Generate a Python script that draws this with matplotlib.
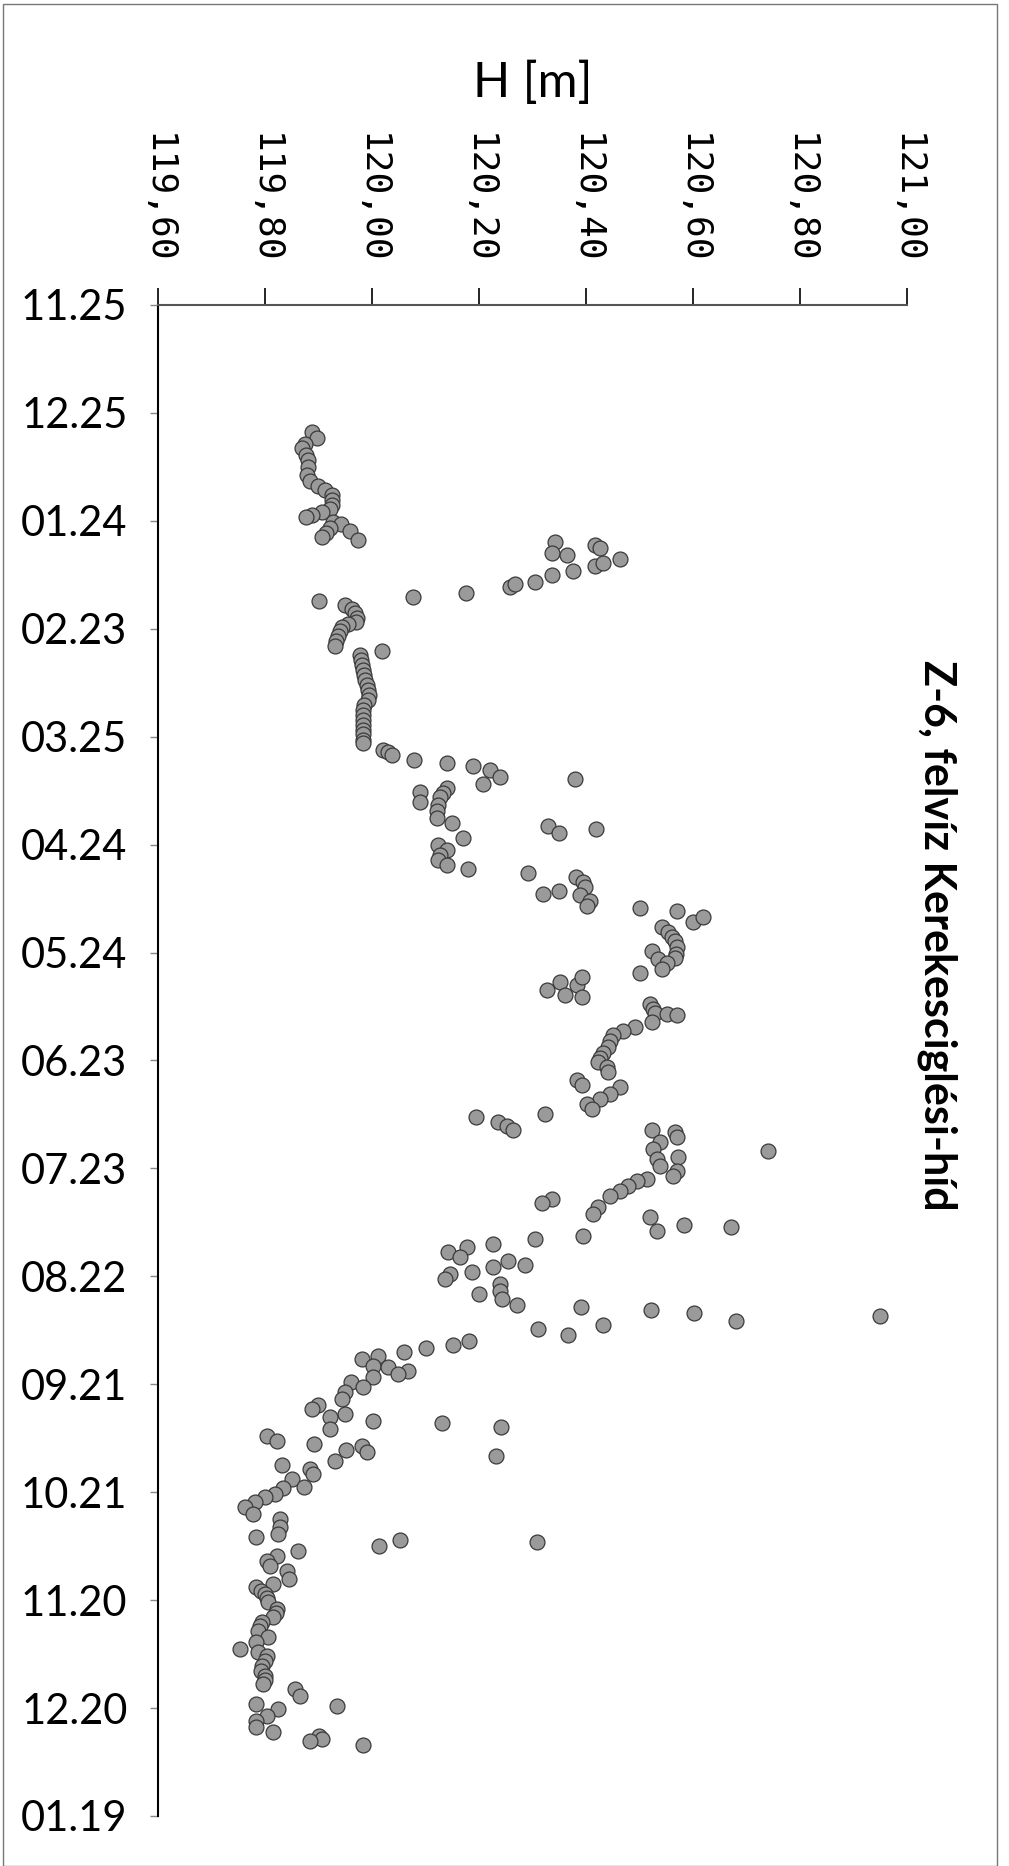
import datetime as dt
import numpy as np
import matplotlib
matplotlib.use('Agg')
import matplotlib.pyplot as plt
from matplotlib.patches import Rectangle

# start of the time axis, day offsets of the readings and the water level H [m]
start = dt.date(2008, 11, 25)

day = [35.2, 37.0, 38.6, 39.7, 41.7, 43.0, 45.0, 47.2, 49.0, 50.3, 51.4, 52.8, 54.2,
       55.6, 56.7, 57.5, 58.3, 59.0, 60.3, 61.0, 62.0, 62.8, 63.3, 64.4, 65.3,
       65.8, 69.0, 69.6, 66.7, 67.6, 70.6, 72.7, 71.6, 73.9, 75.0, 76.9, 78.3, 77.5,
       80.1, 81.3, 82.4,
       83.3, 84.4, 85.6, 86.9, 88.0, 88.6, 89.4, 90.6, 92.1, 93.3, 94.9, 96.3,
       97.2, 98.6, 100.0, 101.4, 102.8, 104.2, 105.6, 106.9, 108.3, 109.7, 111.1,
       112.5, 113.9, 115.3, 116.7, 118.1, 119.4, 120.8, 121.9,
       123.6, 124.2, 125.0, 126.4, 127.2, 128.1, 129.2, 131.1, 133.1, 131.7, 135.3,
       138.1, 134.2, 135.6, 136.9, 138.9, 140.8, 142.5, 143.9, 148.1, 150.0, 151.4,
       152.8, 154.2, 155.6, 156.9, 144.7, 146.7, 145.6, 157.8, 163.6, 162.8, 158.9,
       160.3, 161.9, 163.9, 165.8, 167.2, 167.5, 168.6, 171.4, 170.0, 172.8, 174.2,
       175.6, 176.9, 178.6, 180.3, 181.4, 179.7, 181.8, 182.8, 184.7, 185.6, 190.3,
       188.1, 191.7, 188.9, 186.7, 192.5,
       194.4, 195.8, 196.7, 197.2, 197.5, 199.4, 200.6, 201.9, 202.8, 204.7, 206.4,
       207.8, 209.2, 210.3, 211.7, 213.3, 215.3, 216.9, 217.5, 219.4, 220.8, 222.2,
       223.6, 225.8, 227.2, 228.3, 229.2, 225.0, 229.4, 230.0, 231.4, 232.8, 234.7,
       236.7, 237.5, 239.4, 240.8, 242.2, 235.3, 243.0, 243.6, 245.0, 246.4, 247.8,
       250.8, 252.8, 248.6, 249.7, 253.6, 257.5, 255.6, 256.4, 258.9, 259.7, 261.1,
       261.9, 263.3, 264.7, 265.8, 266.9, 267.5, 268.9, 269.4,
       270.8, 272.2, 274.2, 276.4, 278.1, 275.0, 278.6, 279.4, 280.3, 282.5, 281.1,
       283.6, 284.7, 286.4, 288.1, 289.2, 290.0, 291.1, 292.2, 293.1, 295.0, 295.3,
       296.4, 297.2, 298.1, 299.4, 300.8, 302.2, 304.2, 305.8, 306.9, 308.3, 309.2,
       310.3, 310.8, 311.9, 312.5, 314.4, 315.8, 316.7, 317.2, 318.3, 318.9, 320.0,
       321.3, 322.4, 323.6, 325.0, 326.4, 328.5, 328.7, 330.6, 331.4, 332.8, 334.2,
       336.1, 337.5, 339.7, 341.7, 342.5, 343.3, 343.8, 345.0, 346.4, 347.7, 349.1,
       350.5, 351.9, 354.2, 355.6, 356.4, 357.5, 358.3, 359.5, 360.6, 362.5, 363.5,
       364.7, 366.1, 367.3, 368.6, 370.3, 371.7, 373.6, 374.4, 375.6, 376.9, 378.3,
       379.7, 381.1, 382.2, 383.3, 384.7, 386.7, 388.9, 389.4, 390.3, 392.2, 393.6,
       395.3, 396.7, 397.8, 398.6, 399.2, 400.3]

h = [119.888, 119.897, 119.875, 119.869, 119.877, 119.880, 119.880, 119.878, 119.884,
     119.899, 119.912, 119.925, 119.925, 119.925, 119.921, 119.907, 119.888, 119.877,
     119.927, 119.942, 119.921, 119.959, 119.914, 119.907, 119.974,
     120.342, 120.336, 120.365, 120.417, 120.426, 120.463, 120.417, 120.432, 120.375,
     120.336, 120.305, 120.258, 120.267, 120.176, 120.077, 119.900,
     119.949, 119.962, 119.968, 119.972, 119.971, 119.955, 119.943, 119.940, 119.937,
     119.933, 119.931, 120.018,
     119.978, 119.980, 119.982, 119.983, 119.985, 119.987, 119.990, 119.993, 119.995,
     119.992, 119.985, 119.983, 119.983, 119.983, 119.983, 119.983, 119.983, 119.983,
     119.983,
     120.021, 120.030, 120.037, 120.078, 120.140, 120.189, 120.220, 120.239, 120.207,
     120.379, 120.090, 120.090, 120.140, 120.133, 120.127, 120.123, 120.121, 120.121,
     120.149, 120.170, 120.123, 120.140, 120.127, 120.123, 120.140, 120.179, 120.329,
     120.349, 120.419, 120.292, 120.320, 120.349, 120.381, 120.394, 120.398, 120.389,
     120.407, 120.402, 120.501, 120.570, 120.600, 120.619, 120.542, 120.553, 120.561,
     120.566, 120.570, 120.568, 120.566, 120.523, 120.534, 120.551, 120.542, 120.501,
     120.327, 120.351, 120.361, 120.383, 120.392, 120.392,
     120.520, 120.525, 120.529, 120.551, 120.570, 120.523, 120.492, 120.469, 120.450,
     120.445, 120.441, 120.432, 120.426, 120.422, 120.439, 120.441, 120.383, 120.392,
     120.463, 120.445, 120.426, 120.402, 120.411, 120.194, 120.235, 120.252, 120.264,
     120.323, 120.523, 120.566, 120.570, 120.538, 120.525, 120.572, 120.533, 120.538,
     120.570, 120.563, 120.740, 120.514, 120.495, 120.478, 120.463, 120.445, 120.422,
     120.413, 120.336, 120.318, 120.520, 120.533, 120.583, 120.671, 120.394, 120.305,
     120.226, 120.178, 120.142, 120.164, 120.254, 120.286, 120.226, 120.187, 120.146,
     120.136, 120.240, 120.240, 120.243, 120.271, 120.200, 120.391, 120.521, 120.601,
     120.680, 120.949, 120.432, 120.310, 120.366, 120.181, 120.151, 120.100, 120.060,
     120.011, 119.981, 120.001, 120.030, 120.068, 120.048, 120.001, 119.961, 119.984,
     119.950, 119.944, 119.899, 119.888, 119.950, 119.921, 120.001, 120.131, 120.241,
     119.921, 119.804, 119.822, 119.892, 119.981, 119.952, 119.991, 120.232, 119.931,
     119.831, 119.884, 119.890, 119.850, 119.872, 119.834, 119.819, 119.800, 119.781,
     119.763, 119.778, 119.828, 119.828, 119.825, 119.783, 120.052, 120.309, 120.013,
     119.862, 119.822, 119.803, 119.809, 119.841, 119.844, 119.815, 119.784, 119.792,
     119.800, 119.803, 119.806, 119.822, 119.820, 119.815, 119.794, 119.790, 119.787,
     119.806, 119.784, 119.753, 119.787, 119.803, 119.800, 119.794, 119.792, 119.800,
     119.800, 119.797, 119.856, 119.865, 119.784, 119.934, 119.825, 119.803, 119.784,
     119.784, 119.815, 119.900, 119.906, 119.884, 119.984]

h_ticks = [119.6, 119.8, 120.0, 120.2, 120.4, 120.6, 120.8, 121.0]
day_ticks = list(range(0, 421, 30))

plt.rcParams['font.family'] = ['Lato', 'DejaVu Sans']

fig = plt.figure(figsize=(10.09, 18.66), dpi=100)
ax = fig.add_axes([0.1566, 0.0268, 0.7423, 0.8098])

ax.scatter(h, day, s=115, facecolor='#9a9a9a', edgecolor='#3a3a3a', linewidths=0.9, zorder=3)

ax.set_xlim(119.6, 121.0)
ax.set_ylim(420, 0)

# H axis on top, labels turned like in the scanned chart
ax.xaxis.tick_top()
ax.xaxis.set_label_position('top')
ax.set_xticks(h_ticks)
ax.set_xticklabels(['{:.2f}'.format(v).replace('.', ',') for v in h_ticks],
                   rotation=270, family='DejaVu Sans Mono', fontsize=26)
ax.tick_params(axis='x', direction='out', length=12, width=1.2, pad=18, color='black')

ax.set_yticks(day_ticks)
ax.set_yticklabels([(start + dt.timedelta(days=d)).strftime('%m.%d') for d in day_ticks],
                   fontsize=30)
ax.tick_params(axis='y', direction='out', length=6, width=1.0, pad=16, color='#888888')

ax.set_xlabel('H [m]', fontsize=35, labelpad=26)

ax.spines['right'].set_visible(False)
ax.spines['bottom'].set_visible(False)
ax.spines['left'].set_linewidth(1.5)
ax.spines['top'].set_linewidth(1.5)
ax.spines['top'].set_color('#555555')

fig.text(0.929, 0.499, 'Z-6, felvíz Kerekesciglési-híd', rotation=270,
         fontsize=31, fontweight='bold', ha='center', va='center')

fig.patches.append(Rectangle((0.003, 0.0), 0.985, 0.998, transform=fig.transFigure,
                             fill=False, edgecolor='#777777', linewidth=1.0))

fig.savefig('out.png', dpi=100)
